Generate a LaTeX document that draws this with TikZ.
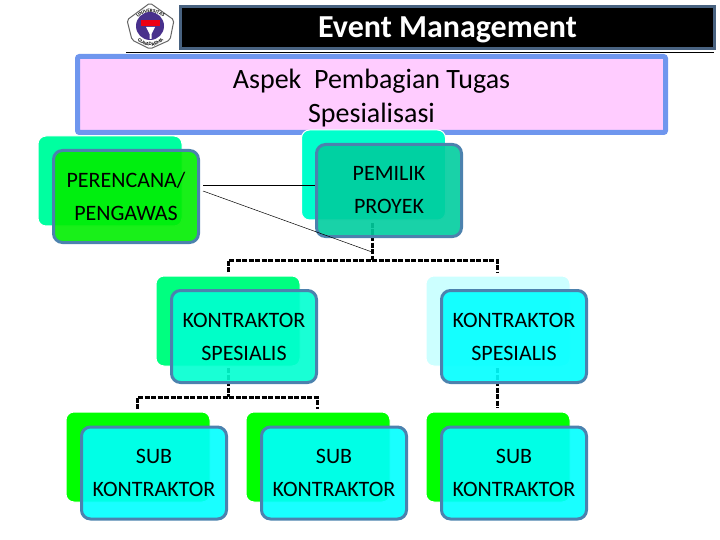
\documentclass[tikz,border=0pt]{standalone}
\usepackage{fontspec}
\setmainfont{Carlito}
\usepackage{tikz}
\usetikzlibrary{decorations.text}
\usepackage{xcolor}
\definecolor{barblue}{RGB}{72, 98, 128}
\definecolor{framegrey}{RGB}{76, 130, 174}
\definecolor{pinkfill}{RGB}{255, 204, 255}
\definecolor{pinkframe}{RGB}{111, 150, 238}
\definecolor{sealpurple}{RGB}{72, 48, 140}
\definecolor{lightmint}{RGB}{0, 255, 160}
\definecolor{seamint}{RGB}{0, 255, 204}
\definecolor{palecyan}{RGB}{204, 255, 255}
\definecolor{teal}{RGB}{0, 205, 158}
\definecolor{aqua}{RGB}{0, 255, 208}
\definecolor{purecyan}{RGB}{0, 255, 255}
\definecolor{puregreen}{RGB}{0, 255, 0}
\definecolor{leafgreen}{RGB}{0, 238, 0}
\tikzset{
    backbox/.style={rounded corners=8pt, minimum width=144pt, minimum height=90pt, draw=white, line width=1pt},
    frontbox/.style={rounded corners=9pt, minimum width=145pt, minimum height=92pt, draw=framegrey, line width=3pt,
        fill opacity=0.9, text opacity=1, draw opacity=1, align=center, font=\fontsize{22}{33}\selectfont},
    bagan/.style={line width=3pt, dash pattern=on 5pt off 1.5pt},
    tipis/.style={black, line width=0.7pt}
}
\begin{document}
\begin{tikzpicture}[x=1pt,y=-1pt]
    \useasboundingbox (0,0) rectangle (720,540);

    % Logo
    \draw[fill=white, draw=black!60, line width=1pt, rounded corners=2pt]
        (150,3) -- (174,20) -- (170,40) -- (150,49) -- (132,40) -- (127,20) -- cycle;
    \fill[sealpurple] (150,26) circle[radius=14pt];
    \fill[red!70!purple] (141,20) rectangle (160,26);
    \fill[white] (146,27) -- (155,27) -- (151.5,34) -- (151.5,39) -- (149.5,39) -- (149.5,34) -- cycle;
    \path[decorate, decoration={text along path, text align=center,
        text={|\fontsize{5}{5}\selectfont\bfseries|UNIVERSITAS}}]
        (133,32) .. controls (130,6) and (171,6) .. (168,32);
    \path[decorate, decoration={text along path, text align=center,
        text={|\fontsize{5}{5}\selectfont\bfseries|GUNADARMA}}]
        (135,37) .. controls (142,49) and (159,49) .. (166,37);

    % Title bar
    \node[fill=black, draw=barblue, line width=3pt, minimum width=534pt, minimum height=42pt, text depth=0pt,
        text=white, font=\fontsize{32}{33}\selectfont\bfseries] (judul) at (447.5,27.5) {Event Management};
    \coordinate (garisa) at (126,52);
    \coordinate (garisb) at (714,52);
    \draw[tipis] (garisa) -- (garisb);

    % Subtitle
    \node[fill=pinkfill, draw=pinkframe, line width=5pt, rounded corners=2pt, minimum width=588pt, minimum height=76pt,
        align=center, font=\fontsize{28}{34}\selectfont] (aspek) at (371.5,94.5) {\rule{0pt}{27pt}Aspek\ \ Pembagian Tugas\\Spesialisasi};

    % Shadow boxes
    \node[backbox, fill=lightmint] (perencanaback) at (110,181) {};
    \node[backbox, fill=seamint] (pemilikback) at (373.5,175) {};
    \node[backbox, fill=lightmint!80!puregreen] (kontraktorAback) at (228,321) {};
    \node[backbox, fill=palecyan] (kontraktorBback) at (498,321) {};
    \node[backbox, fill=puregreen] (subAback) at (138,457) {};
    \node[backbox, fill=puregreen] (subBback) at (318,457) {};
    \node[backbox, fill=puregreen] (subCback) at (498,457) {};

    % Dashed tree
    \coordinate (akar) at (372,223);
    \coordinate (cabang) at (372,260);
    \coordinate (cabangA) at (228,260);
    \coordinate (cabangB) at (497,260);
    \coordinate (turunA) at (228,272);
    \coordinate (turunB) at (497,272);
    \coordinate (akarA) at (228,368);
    \coordinate (cabangC) at (228,397);
    \coordinate (cabangD) at (137,397);
    \coordinate (cabangE) at (317,397);
    \coordinate (turunD) at (137,409);
    \coordinate (turunE) at (317,409);
    \coordinate (akarB) at (497,368);
    \coordinate (turunF) at (497,408);
    \draw[bagan] (akar) -- (cabang);
    \draw[bagan] (turunA) -- (cabangA) -- (cabangB) -- (turunB);
    \draw[bagan] (akarA) -- (cabangC);
    \draw[bagan] (turunD) -- (cabangD) -- (cabangE) -- (turunE);
    \draw[bagan] (akarB) -- (turunF);

    % Front boxes
    \node[frontbox, fill=leafgreen] (perencana) at (126,196.5) {PERENCANA/\\PENGAWAS};
    \node[frontbox, fill=teal] (pemilik) at (389,190.5) {PEMILIK\\PROYEK};
    \node[frontbox, fill=aqua] (kontraktorA) at (244,336.5) {KONTRAKTOR\\SPESIALIS};
    \node[frontbox, fill=purecyan] (kontraktorB) at (514,336.5) {KONTRAKTOR\\SPESIALIS};
    \node[frontbox, fill=purecyan] (subA) at (154,473) {SUB\\KONTRAKTOR};
    \node[frontbox, fill=purecyan] (subB) at (334,473) {SUB\\KONTRAKTOR};
    \node[frontbox, fill=purecyan] (subC) at (514,473) {SUB\\KONTRAKTOR};

    % Thin lines
    \coordinate (tipisA) at (203,185);
    \coordinate (tipisB) at (203,191);
    \coordinate (tipisC) at (372,252);
    \draw[tipis] (tipisA) -- (tipisA -| pemilik.west);
    \draw[tipis, line width=0.5pt] (tipisB) -- (tipisC);
\end{tikzpicture}
\end{document}
